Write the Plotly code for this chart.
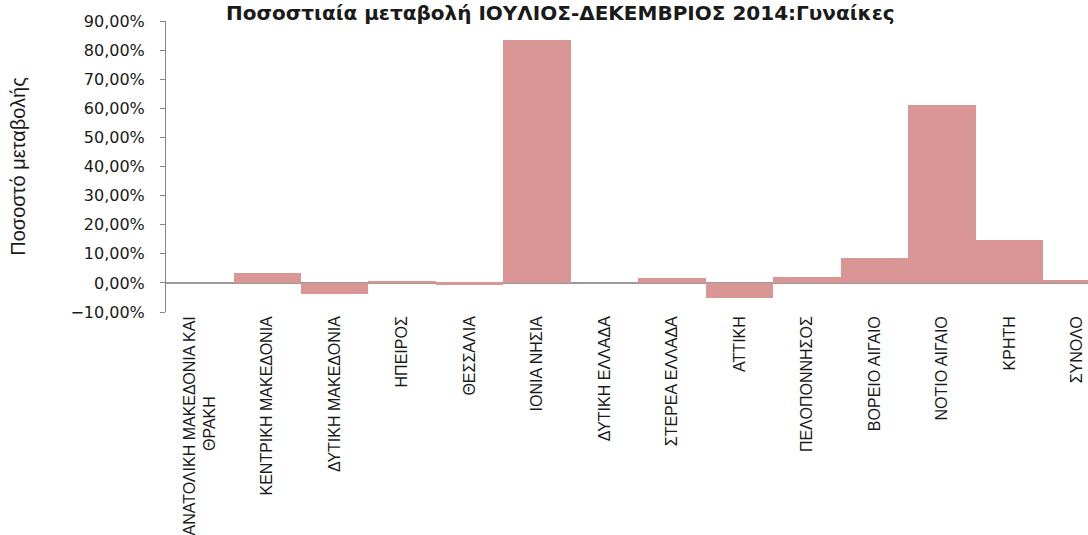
import plotly.graph_objects as go

categories = [
    "ΑΝΑΤΟΛΙΚΗ ΜΑΚΕΔΟΝΙΑ ΚΑΙ<br>ΘΡΑΚΗ" + "\u00a0" * 18,
    "ΚΕΝΤΡΙΚΗ ΜΑΚΕΔΟΝΙΑ",
    "ΔΥΤΙΚΗ ΜΑΚΕΔΟΝΙΑ",
    "ΗΠΕΙΡΟΣ",
    "ΘΕΣΣΑΛΙΑ",
    "ΙΟΝΙΑ ΝΗΣΙΑ",
    "ΔΥΤΙΚΗ ΕΛΛΑΔΑ",
    "ΣΤΕΡΕΑ ΕΛΛΑΔΑ",
    "ΑΤΤΙΚΗ",
    "ΠΕΛΟΠΟΝΝΗΣΟΣ",
    "ΒΟΡΕΙΟ ΑΙΓΑΙΟ",
    "ΝΟΤΙΟ ΑΙΓΑΙΟ",
    "ΚΡΗΤΗ",
    "ΣΥΝΟΛΟ",
]
values = [0.0, 0.033, -0.039, 0.004, -0.006, 0.835, 0.0, 0.016, -0.053, 0.019, 0.084, 0.611, 0.149, 0.009]

title_text = "Ποσοστιαία μεταβολή ΙΟΥΛΙΟΣ-ΔΕΚΕΜΒΡΙΟΣ 2014:Γυναίκες"
y_title = "Ποσοστό μεταβολής"
y_ticks = [-0.1, 0.0, 0.1, 0.2, 0.3, 0.4, 0.5, 0.6, 0.7, 0.8, 0.9]

narrow = "Liberation Sans Narrow, Arial Narrow, Liberation Sans, sans-serif"
wide = "DejaVu Sans, Verdana, sans-serif"

fig = go.Figure(
    go.Bar(
        x=list(range(len(categories))),
        y=values,
        marker=dict(color="#D99694", line=dict(width=0)),
        hoverinfo="skip",
    )
)

fig.update_layout(
    width=1088,
    height=535,
    margin=dict(l=166, r=0, t=21, b=223),
    paper_bgcolor="white",
    plot_bgcolor="white",
    bargap=0,
    separators=",.",
    showlegend=False,
    title=dict(
        text="<b>" + title_text + "</b>",
        x=0.515,
        xanchor="center",
        y=1 - 13 / 535,
        yanchor="middle",
        font=dict(family=wide, size=20, color="#1a1a1a"),
    ),
)

fig.update_xaxes(
    tickmode="array",
    tickvals=list(range(len(categories))),
    ticktext=categories,
    tickangle=-90,
    range=[-0.5, 13.16],
    showgrid=False,
    showline=False,
    ticks="",
    zeroline=False,
    automargin=False,
    tickfont=dict(family=narrow, size=16, color="#1a1a1a"),
)

fig.update_yaxes(
    range=[-0.1, 0.9],
    tickmode="array",
    tickvals=y_ticks,
    tickformat=".2%",
    showgrid=False,
    showline=True,
    linecolor="#868686",
    linewidth=1,
    ticks="outside",
    ticklen=5,
    tickcolor="#868686",
    ticklabelstandoff=12,
    zeroline=True,
    zerolinecolor="#9a9a9a",
    zerolinewidth=1.5,
    automargin=False,
    tickfont=dict(family=wide, size=16, color="#1a1a1a"),
    title=dict(text=y_title, font=dict(family=narrow, size=20, color="#1a1a1a"), standoff=39),
)

fig.write_html(
    "out.html",
    config={"displayModeBar": False},
    post_script="document.body.style.margin='0';document.body.style.overflow='hidden';",
)
